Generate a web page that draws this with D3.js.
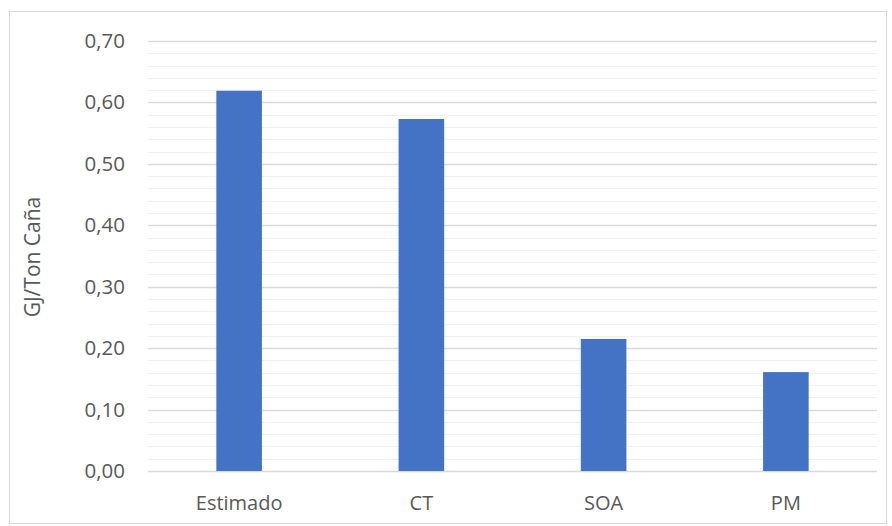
<!DOCTYPE html>
<html><head><meta charset="utf-8">
<script src="https://cdn.jsdelivr.net/npm/d3@7"></script>
<style>body{margin:0;background:#fff}svg{display:block}</style>
</head><body>
<script>
const categories = ["Estimado", "CT", "SOA", "PM"];
const values = [0.619, 0.573, 0.215, 0.161];
const majorTicks = [0, 0.1, 0.2, 0.3, 0.4, 0.5, 0.6, 0.7];
const minorTicks = d3.range(0, 0.7001, 0.02);
const yLabel = "GJ/Ton Caña";

const W = 892, H = 526;
const svg = d3.select("body").append("svg").attr("width", W).attr("height", H);
svg.append("rect").attr("x", 9.5).attr("y", 11.5).attr("width", 877).attr("height", 512)
  .attr("fill", "#fff").attr("stroke", "#d9d9d9");

const x = d3.scaleBand().domain(categories).range([148, 877]).paddingInner(0.75).paddingOuter(0.375);
const y = d3.scaleLinear().domain([0, 0.7]).range([471, 41]);
const font = "'Open Sans', 'Liberation Sans', sans-serif";

svg.append("g").selectAll("line").data(minorTicks).join("line")
  .attr("x1", 148).attr("x2", 877)
  .attr("y1", d => Math.round(y(d)) + 0.5).attr("y2", d => Math.round(y(d)) + 0.5)
  .attr("stroke", "#f0f0f0").attr("stroke-width", 1.2);
svg.append("g").selectAll("line").data(majorTicks).join("line")
  .attr("x1", 148).attr("x2", 877)
  .attr("y1", d => Math.round(y(d)) + 0.5).attr("y2", d => Math.round(y(d)) + 0.5)
  .attr("stroke", "#d9d9d9").attr("stroke-width", 1.3);

svg.append("g").selectAll("rect").data(values).join("rect")
  .attr("x", (d, i) => x(categories[i])).attr("width", x.bandwidth())
  .attr("y", d => y(d)).attr("height", d => y(0) - y(d))
  .attr("fill", "#4472c4");

const yAxis = d3.axisLeft(y).tickValues(majorTicks).tickSize(0).tickPadding(0)
  .tickFormat(d => d3.format(".2f")(d).replace(".", ","));
const gy = svg.append("g").attr("transform", "translate(125,0)").call(yAxis);
gy.select(".domain").remove();
gy.selectAll("text").attr("font-family", font).attr("font-size", 20.5).attr("fill", "#595959");

const xAxis = d3.axisBottom(x).tickSize(0).tickPadding(0);
const gx = svg.append("g").attr("transform", "translate(0,0)").call(xAxis);
gx.attr("transform", "translate(0,510)");
gx.select(".domain").remove();
gx.selectAll("text").attr("dy", null).attr("y", 0)
  .attr("font-family", font).attr("font-size", 20).attr("fill", "#595959");

svg.append("text").attr("transform", "translate(40,257) rotate(-90)")
  .attr("text-anchor", "middle").attr("font-family", font).attr("font-size", 21)
  .attr("fill", "#595959").text(yLabel);
</script>
</body></html>
